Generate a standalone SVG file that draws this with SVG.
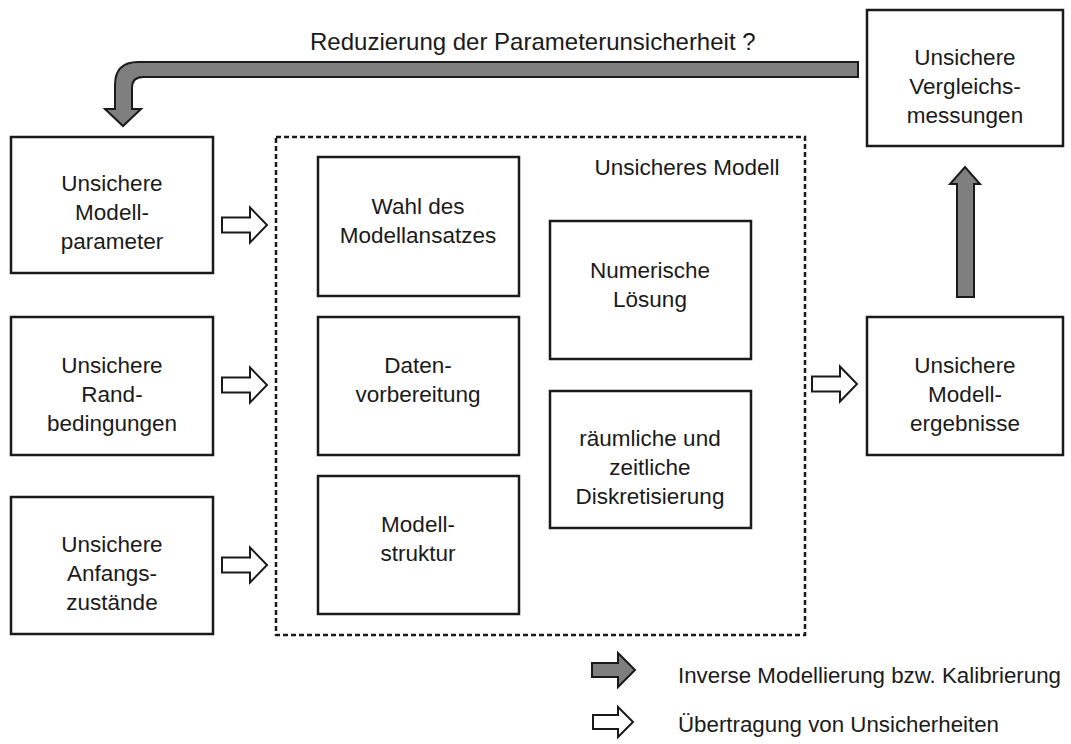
<svg xmlns="http://www.w3.org/2000/svg" width="1071" height="744" viewBox="0 0 1071 744">
  <defs>
    <style>
      .box { fill: #fff; stroke: #1a1a1a; stroke-width: 2.5; }
      .frame { fill: none; stroke: #1a1a1a; stroke-width: 2.5; stroke-dasharray: 5 3; }
      .txt { font-family: "Liberation Sans", Arial, sans-serif; font-size: 22.5px; fill: #1a1a1a; text-anchor: middle; }
      .lbl { font-family: "Liberation Sans", Arial, sans-serif; font-size: 22.3px; fill: #1a1a1a; }
      .gray { fill: #7f7f7f; stroke: #1a1a1a; stroke-width: 2; stroke-linejoin: miter; }
      .white { fill: #fff; stroke: #1a1a1a; stroke-width: 2; stroke-linejoin: miter; }
    </style>
    <!-- hollow block arrow, tip at origin pointing right -->
    <path id="wArrow" d="M-45,-7.5 H-17 V-17.5 L0,0 L-17,17.5 V7.5 H-45 Z"/>
    <path id="wArrowSmall" d="M-40,-7 H-15 V-15 L0,0 L-15,15 V7 H-40 Z"/>
  </defs>

  <text class="lbl" x="310" y="50" style="font-size:24px">Reduzierung der Parameterunsicherheit ?</text>

  <!-- frame around the model -->
  <g id="model">
    <rect class="frame" x="276" y="137" width="529" height="498"/>
    <text class="txt" x="687" y="175">Unsicheres Modell</text>
  </g>

  <g id="params">
    <rect class="box" x="11" y="137" width="202" height="136"/>
    <text class="txt" x="112" y="191">Unsichere</text>
    <text class="txt" x="112" y="220">Modell-</text>
    <text class="txt" x="112" y="249">parameter</text>
  </g>
  <g id="boundary">
    <rect class="box" x="11" y="317" width="202" height="138"/>
    <text class="txt" x="112" y="373">Unsichere</text>
    <text class="txt" x="112" y="402">Rand-</text>
    <text class="txt" x="112" y="431">bedingungen</text>
  </g>
  <g id="initial">
    <rect class="box" x="11" y="497" width="202" height="137"/>
    <text class="txt" x="112" y="552">Unsichere</text>
    <text class="txt" x="112" y="581">Anfangs-</text>
    <text class="txt" x="112" y="610">zustände</text>
  </g>

  <g id="approach">
    <rect class="box" x="318" y="157" width="201" height="139"/>
    <text class="txt" x="418" y="214">Wahl des</text>
    <text class="txt" x="418" y="243">Modellansatzes</text>
  </g>
  <g id="data">
    <rect class="box" x="318" y="317" width="201" height="138"/>
    <text class="txt" x="418" y="373">Daten-</text>
    <text class="txt" x="418" y="402">vorbereitung</text>
  </g>
  <g id="structure">
    <rect class="box" x="318" y="476" width="201" height="138"/>
    <text class="txt" x="418" y="532">Modell-</text>
    <text class="txt" x="418" y="561">struktur</text>
  </g>
  <g id="numerics">
    <rect class="box" x="550" y="221" width="201" height="138"/>
    <text class="txt" x="650" y="278">Numerische</text>
    <text class="txt" x="650" y="307">Lösung</text>
  </g>
  <g id="discretisation">
    <rect class="box" x="550" y="391" width="201" height="137"/>
    <text class="txt" x="650" y="446">räumliche und</text>
    <text class="txt" x="650" y="475">zeitliche</text>
    <text class="txt" x="650" y="504">Diskretisierung</text>
  </g>

  <g id="results">
    <rect class="box" x="867" y="317" width="196" height="138"/>
    <text class="txt" x="965" y="373">Unsichere</text>
    <text class="txt" x="965" y="402">Modell-</text>
    <text class="txt" x="965" y="431">ergebnisse</text>
  </g>
  <g id="measurements">
    <rect class="box" x="867" y="10" width="196" height="136"/>
    <text class="txt" x="965" y="65">Unsichere</text>
    <text class="txt" x="965" y="94">Vergleichs-</text>
    <text class="txt" x="965" y="123">messungen</text>
  </g>

  <g id="connectors">
    <!-- calibration feedback -->
    <path class="gray" d="M858,62 H138 Q115,62 115,85 V109 H105 L123,126 L141,109 H132 V88 Q132,77 143,77 H858 Z"/>
    <path class="gray" d="M957,297 V184 H950 L965,167 L980,184 H974 V297 Z"/>
    <!-- propagation of uncertainty -->
    <use href="#wArrow" class="white" x="267" y="225"/>
    <use href="#wArrow" class="white" x="267" y="385"/>
    <use href="#wArrow" class="white" x="267" y="565"/>
    <use href="#wArrow" class="white" x="857" y="384"/>
  </g>

  <g id="legend">
    <path class="gray" d="M592,663 H618 V653 L635,670 L618,687 V677 H592 Z"/>
    <text class="lbl" x="678" y="683">Inverse Modellierung bzw. Kalibrierung</text>
    <use href="#wArrowSmall" class="white" x="633" y="722"/>
    <text class="lbl" x="678" y="732">Übertragung von Unsicherheiten</text>
  </g>
</svg>
